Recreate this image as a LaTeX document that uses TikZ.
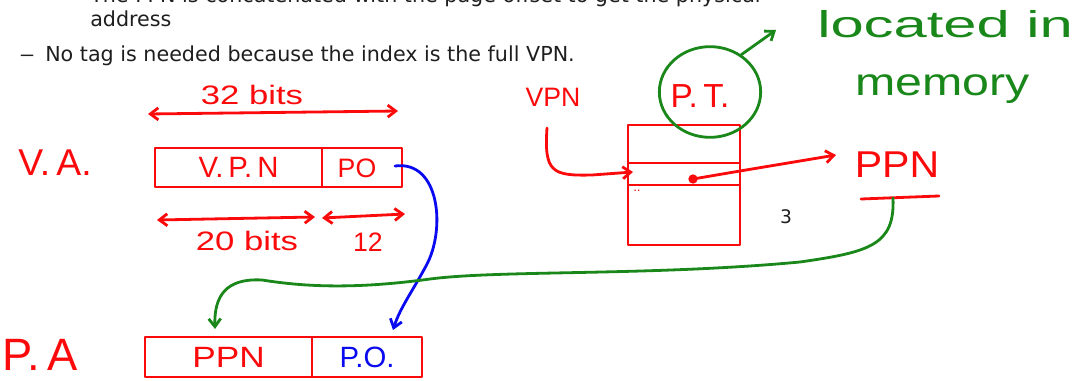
\documentclass[tikz,border=0pt]{standalone}
\usepackage{fontspec}
\setmainfont{DejaVu Sans}
\newfontfamily\hand{Liberation Sans}
\usetikzlibrary{arrows.meta,shapes.geometric}
\definecolor{pen}{RGB}{250,10,10}
\definecolor{gpen}{RGB}{25,135,25}
\definecolor{bpen}{RGB}{10,10,240}
\definecolor{printc}{RGB}{30,30,30}
\begin{document}
\begin{tikzpicture}[x=0.75pt,y=-0.75pt,
  ink/.style={line width=2.1pt, line cap=round, line join=round},
  redink/.style={ink, draw=pen},
  greenink/.style={ink, draw=gpen},
  blueink/.style={ink, draw=bpen},
  barbend/.style={-{Straight Barb[length=6pt,width=9pt]}},
  barbboth/.style={{Straight Barb[length=6pt,width=9pt]}-{Straight Barb[length=6pt,width=9pt]}},
  printed/.style={text=printc, inner sep=0pt, font=\fontsize{15.5}{18}\selectfont},
  hw/.style={text=pen, inner sep=0pt, font=\hand\fontsize{#1}{#1}\selectfont},
  field/.style={redink, inner sep=0pt, minimum height=#1},
]
\useasboundingbox (0,0) rectangle (1086,381);
\clip (0,0) rectangle (1086,381);

% printed text
\node[printed, anchor=base west] (l0) at (90,3) {The PPN is concatenated with the page offset to get the physical};
\node[printed, anchor=base west] (l1) at (90,27) {address};
\node[printed, anchor=base west] (dash) at (19,62) {\scalebox{1.5}[1]{–}};
\node[printed, anchor=base west] (l2) at (45,62) {No tag is needed because the index is the full VPN.};

% virtual address
\node[hw=28] (va) at (55,163) {V.\,A.};
\node[hw=20] (b32) at (252,95) {\scalebox{1.3}[1]{32 bits}};
\coordinate (a32l) at (148,114);
\coordinate (a32r) at (398,111);
\draw[redink, barbboth] (a32l) -- (a32r);
\node[field=29.25pt, minimum width=125.25pt] (vvpn) at (238.5,167.5) {};
\node[field=29.25pt, minimum width=60pt] (vpo) at (362,167.5) {};
\node[hw=22] at (vvpn) {V.\,P.\,N};
\node[hw=20] (potxt) at (357,168) {PO};
\coordinate (a20l) at (157,220);
\coordinate (a20r) at (315,217);
\coordinate (a12l) at (322,218);
\coordinate (a12r) at (405,214);
\draw[redink, barbboth] (a20l) -- (a20r);
\draw[redink, barbboth] (a12l) -- (a12r);
\node[hw=20] (b20) at (247,241) {\scalebox{1.3}[1]{20 bits}};
\node[hw=20] (b12) at (368,242) {12};

% physical address
\node[hw=34] (pa) at (40,355) {P.\,A};
\node[field=30pt, minimum width=125.25pt] (pppn) at (228.5,357) {};
\node[field=30pt, minimum width=82.5pt] (ppo) at (367,357) {};
\node[hw=22] at (pppn) {\scalebox{1.2}[1]{PPN}};
\node[hw=22, text=bpen] at (ppo) {P.O.};

% page table
\node[hw=20] (vpnlab) at (553,97) {VPN};
\node[field=28.5pt, minimum width=84pt] (ptop) at (684,144) {};
\node[field=16.5pt, minimum width=84pt] (pmid) at (684,174) {};
\node[field=45pt, minimum width=84pt] (pbot) at (684,215) {};
\node[hw=10, anchor=north west] (dots) at (633,190) {..};
\node[printed, font=\fontsize{14}{16}\selectfont] (three) at (786,217) {3};
\node[circle, fill=pen, inner sep=0pt, minimum size=7pt] (dot) at (693,179) {};
\node[hw=28] (ppn) at (897,165) {\scalebox{1.1}[1]{PPN}};
\coordinate (ul) at (861,199);
\coordinate (ur) at (939,196);
\coordinate (um) at (893,198);
\draw[redink] (ul) -- (ur);

\coordinate (vpnstart) at (547,128);
\coordinate (vpnin) at (633,172);
\draw[redink, barbend] (vpnstart) .. controls (544,172) and (552,176) .. (592,175) -- (vpnin);
\coordinate (ppnin) at (836,155);
\draw[redink, barbend] (dot.center) -- (740,171) -- (ppnin);

% P.T. circle
\node[ellipse, draw=gpen, line width=2.1pt, minimum width=76pt, minimum height=68pt, inner sep=0pt] (pt) at (710,92) {};
\node[hw=25] (pttxt) at (700,96) {P.\,T.};
\coordinate (locin) at (776,30);
\draw[greenink, barbend] (pt.50) -- (locin);
\node[hw=28, text=gpen, anchor=base west] (loc) at (817,38) {\scalebox{1.6}[1]{located in}};
\node[hw=29, text=gpen, anchor=base west] (mem) at (855,96) {\scalebox{1.25}[1]{memory}};

% connectors to physical address
\coordinate (blstart) at (395,166);
\coordinate (blend) at (393,330);
\draw[blueink, barbend] (blstart) .. controls (440,160) and (446,230) .. (426,266) .. controls (412,292) and (400,308) .. (blend);
\coordinate (grend) at (215,329);
\draw[greenink, barbend] (um) .. controls (895,245) and (870,252) .. (800,262) .. controls (650,276) and (500,270) .. (430,279) .. controls (350,290) and (300,286) .. (262,280) .. controls (226,278) and (214,296) .. (grend);
\end{tikzpicture}
\end{document}
